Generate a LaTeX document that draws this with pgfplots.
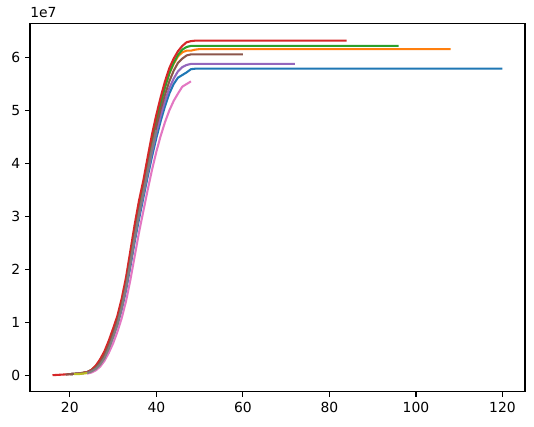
\documentclass[border=0pt]{standalone}
\usepackage{fontspec}
\setmainfont{DejaVu Sans}
\usepackage{pgfplots}
\pgfplotsset{compat=1.18}

\definecolor{c0}{HTML}{1F77B4}
\definecolor{c1}{HTML}{FF7F0E}
\definecolor{c2}{HTML}{2CA02C}
\definecolor{c3}{HTML}{D62728}
\definecolor{c4}{HTML}{9467BD}
\definecolor{c5}{HTML}{8C564B}
\definecolor{c6}{HTML}{E377C2}
\definecolor{c7}{HTML}{7F7F7F}
\definecolor{c8}{HTML}{BCBD22}

\begin{document}
\begin{tikzpicture}
\useasboundingbox (-21.6pt,-25.2pt) rectangle (362.9pt,282.2pt);
\begin{axis}[
    at={(0,0)}, anchor=south west,
    scale only axis,
    width=356.4pt, height=265pt,
    xmin=10.8, xmax=125.2,
    ymin=-3.16e6, ymax=6.636e7,
    xtick={20,40,60,80,100,120},
    ytick={0,1e7,2e7,3e7,4e7,5e7,6e7},
    scaled y ticks=base 10:-7,
    ytick scale label code/.code={1e7},
    every y tick scale label/.style={at={(rel axis cs:0,1)}, anchor=south west, inner sep=0pt, yshift=4pt},
    /pgf/number format/assume math mode=true,
    tick label style={font=\fontsize{10}{12}\selectfont},
    tick align=outside, tick pos=left,
    major tick length=3.5pt,
    every tick/.style={black, line width=0.8pt},
    axis line style={line width=0.8pt},
    every axis plot/.append style={line width=1.5pt, line join=round, mark=none},
    clip=true,
]
% blue
\addplot[c0] coordinates {(20,0.02e7) (22,0.03e7) (24,0.05e7) (25,0.08e7) (26,0.13e7) (27,0.22e7) (28,0.34e7) (29,0.5e7) (30,0.72e7) (31,0.95e7) (32,1.24e7) (33,1.6e7) (34,2.05e7) (35,2.52e7) (36,2.95e7) (37,3.35e7) (38,3.75e7) (39,4.13e7) (40,4.48e7) (41,4.8e7) (42,5.08e7) (43,5.32e7) (44,5.5e7) (45,5.62e7) (46,5.67e7) (47,5.72e7) (48,5.78e7) (49,5.79e7) (120,5.79e7)};
% orange
\addplot[c1] coordinates {(20,0.02e7) (22,0.03e7) (24,0.05e7) (25,0.09e7) (26,0.16e7) (27,0.27e7) (28,0.42e7) (29,0.6e7) (30,0.83e7) (31,1.07e7) (32,1.38e7) (33,1.77e7) (34,2.25e7) (35,2.75e7) (36,3.2e7) (37,3.6e7) (38,4.02e7) (39,4.45e7) (40,4.82e7) (41,5.14e7) (42,5.44e7) (43,5.7e7) (44,5.88e7) (45,6.02e7) (46,6.1e7) (47,6.13e7) (48,6.13e7) (49,6.15e7) (50,6.16e7) (108,6.16e7)};
% green
\addplot[c2] coordinates {(20,0.02e7) (22,0.03e7) (24,0.06e7) (25,0.1e7) (26,0.17e7) (27,0.28e7) (28,0.42e7) (29,0.6e7) (30,0.82e7) (31,1.06e7) (32,1.37e7) (33,1.76e7) (34,2.24e7) (35,2.74e7) (36,3.18e7) (37,3.57e7) (38,4.0e7) (39,4.42e7) (40,4.8e7) (41,5.13e7) (42,5.44e7) (43,5.7e7) (44,5.9e7) (45,6.05e7) (46,6.15e7) (47,6.2e7) (48,6.22e7) (96,6.22e7)};
% red
\addplot[c3] coordinates {(16,0) (18,0.01e7) (20,0.02e7) (22,0.03e7) (24,0.06e7) (25,0.1e7) (26,0.18e7) (27,0.3e7) (28,0.45e7) (29,0.65e7) (30,0.88e7) (31,1.12e7) (32,1.45e7) (33,1.85e7) (34,2.35e7) (35,2.85e7) (36,3.3e7) (37,3.68e7) (38,4.12e7) (39,4.55e7) (40,4.92e7) (41,5.25e7) (42,5.55e7) (43,5.8e7) (44,5.98e7) (45,6.12e7) (46,6.22e7) (47,6.29e7) (48,6.31e7) (49,6.32e7) (84,6.32e7)};
% purple
\addplot[c4] coordinates {(20,0.02e7) (22,0.03e7) (24,0.05e7) (25,0.08e7) (26,0.13e7) (27,0.22e7) (28,0.35e7) (29,0.52e7) (30,0.74e7) (31,0.98e7) (32,1.27e7) (33,1.64e7) (34,2.1e7) (35,2.58e7) (36,3.02e7) (37,3.42e7) (38,3.82e7) (39,4.22e7) (40,4.58e7) (41,4.9e7) (42,5.18e7) (43,5.42e7) (44,5.6e7) (45,5.74e7) (46,5.82e7) (47,5.86e7) (48,5.88e7) (72,5.88e7)};
% brown
\addplot[c5] coordinates {(19,0.01e7) (20,0.02e7) (22,0.03e7) (24,0.05e7) (25,0.08e7) (26,0.14e7) (27,0.24e7) (28,0.38e7) (29,0.56e7) (30,0.78e7) (31,1.02e7) (32,1.32e7) (33,1.7e7) (34,2.17e7) (35,2.66e7) (36,3.1e7) (37,3.5e7) (38,3.92e7) (39,4.33e7) (40,4.7e7) (41,5.02e7) (42,5.3e7) (43,5.55e7) (44,5.75e7) (45,5.9e7) (46,5.98e7) (47,6.04e7) (48,6.06e7) (60,6.06e7)};
% pink
\addplot[c6] coordinates {(24,0.03e7) (25,0.05e7) (26,0.09e7) (27,0.16e7) (28,0.27e7) (29,0.42e7) (30,0.6e7) (31,0.82e7) (32,1.08e7) (33,1.4e7) (34,1.8e7) (35,2.25e7) (36,2.7e7) (37,3.1e7) (38,3.5e7) (39,3.88e7) (40,4.22e7) (41,4.52e7) (42,4.78e7) (43,5.0e7) (44,5.18e7) (45,5.32e7) (46,5.45e7) (47,5.5e7) (48,5.55e7)};
% gray
\addplot[c7] coordinates {(24,0.04e7) (25,0.07e7) (26,0.12e7) (27,0.2e7) (28,0.32e7) (29,0.5e7) (30,0.72e7) (31,0.96e7) (32,1.28e7) (33,1.66e7) (34,2.12e7) (35,2.6e7) (36,3.05e7) (37,3.45e7) (38,3.86e7) (39,4.27e7) (40,4.63e7)};
% olive
\addplot[c8] coordinates {(21,0.02e7) (22,0.02e7) (23,0.03e7) (24,0.04e7)};
\end{axis}
\end{tikzpicture}
\end{document}
